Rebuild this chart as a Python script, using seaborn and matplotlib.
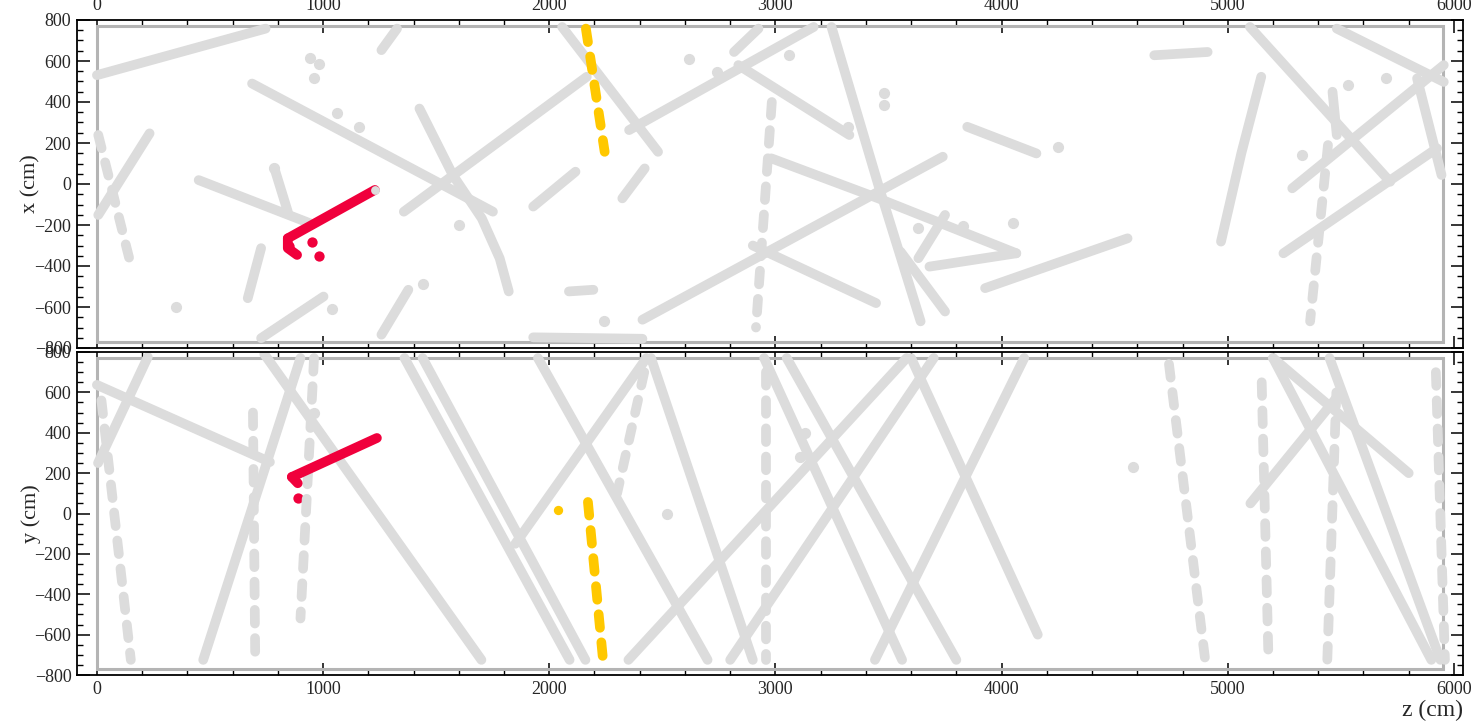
import numpy as np
import pandas as pd
import seaborn as sns
import matplotlib.pyplot as plt
from matplotlib.ticker import MultipleLocator
from matplotlib.patches import Rectangle

sns.set_theme(style="ticks")
plt.rcParams['font.family'] = ['Liberation Serif', 'DejaVu Serif']

# ---- data: each track is a list of (z, coord) vertices (cm) ----
# top view: x vs z
top_gray = [
    [(0, 531), (746, 758)],
    [(686, 490), (1751, -135)],
    [(1426, 368), (1574, 43), (1702, -168), (1781, -363), (1821, -524)],
    [(1357, -135), (2166, 523)],
    [(2057, 766), (2481, 157)],
    [(2353, 263), (3169, 766)],
    [(450, 19), (943, -192)],
    [(785, 76), (844, -135)],
    [(233, 247), (6, -151)],
    [(726, -313), (667, -557)],
    [(726, -752), (1002, -549)],
    [(1258, -735), (1377, -516)],
    [(1258, 653), (1327, 758)],
    [(1929, -110), (2116, 60)],
    [(2323, -70), (2422, 76)],
    [(2087, -524), (2195, -516)],
    [(1929, -748), (2412, -755)],
    [(2412, -662), (3740, 133)],
    [(2900, -300), (3445, -581)],
    [(2817, 644), (2925, 758)],
    [(2836, 580), (3327, 239)],
    [(3248, 766), (3455, -5), (3642, -670)],
    [(2982, 125), (3455, -70), (4065, -338)],
    [(3632, -362), (3750, -151)],
    [(3681, -403), (4065, -338)],
    [(3553, -330), (3750, -622)],
    [(3848, 279), (4154, 149)],
    [(3927, -508), (4557, -265)],
    [(4675, 628), (4911, 644)],
    [(4970, -281), (5060, 150), (5148, 523)],
    [(5098, 766), (5718, 11)],
    [(5482, 758), (5955, 498)],
    [(5285, -21), (5955, 580)],
    [(5246, -338), (5925, 174)],
    [(5837, 515), (5945, 44)],
    [(5463, 450), (5482, 239)],
]
top_gray_dashed = [
    [(6, 239), (154, -411)],
    [(2984, 400), (2914, -700)],
    [(5443, 190), (5364, -670)],
]
top_gray_dots_z = [940, 980, 960, 1060, 1160, 785, 1600, 1440, 350, 1040, 2240, 2620, 2740, 3060, 3480, 3480, 3320, 3630, 3830, 4050, 4250, 5330, 5700, 5530]
top_gray_dots_x = [615, 585, 515, 345, 280, 76, -200, -490, -600, -610, -670, 610, 545, 630, 445, 385, 280, -215, -203, -190, 180, 140, 515, 485]
top_red = [[(844, -265), (1229, -29)], [(844, -265), (844, -313), (885, -346)]]
top_red_dots_z = [953, 982, 850]
top_red_dots_x = [-281, -349, -300]
top_yellow = [[(2162, 758), (2245, 157)]]

# side view: y vs z
bot_gray = [
    [(0, 637), (765, 255)],
    [(225, 775), (5, 250)],
    [(470, -725), (900, 770)],
    [(740, 790), (1700, -725)],
    [(1360, 770), (2090, -725)],
    [(1440, 770), (2160, -725)],
    [(1950, 770), (2700, -725)],
    [(2450, 770), (2900, -725)],
    [(2430, 770), (1850, -150)],
    [(2950, 770), (3560, -725)],
    [(3050, 770), (3800, -725)],
    [(3580, 770), (2350, -725)],
    [(3700, 770), (2800, -725)],
    [(3600, 770), (4160, -600)],
    [(4100, 770), (3440, -725)],
    [(5200, 770), (5900, -725)],
    [(5450, 770), (5940, -725)],
    [(5800, 200), (5200, 770)],
    [(5100, 50), (5500, 600)],
]
bot_gray_dashed = [
    [(20, 560), (150, -725)],
    [(690, 500), (700, -720)],
    [(960, 770), (900, -520)],
    [(2960, 700), (2960, -725)],
    [(4740, 740), (4900, -725)],
    [(5150, 650), (5180, -725)],
    [(5480, 600), (5440, -725)],
    [(5920, 700), (5960, -725)],
    [(2420, 700), (2300, 100)],
]
bot_gray_dots_z = [4580, 3110, 3130, 960, 2520]
bot_gray_dots_y = [230, 280, 400, 500, 0]
bot_red = [[(862, 181), (1238, 374)], [(862, 181), (888, 150)]]
bot_red_dots_z = [889]
bot_red_dots_y = [77]
bot_yellow = [[(2171, 57), (2237, -716)]]
bot_yellow_dots_z = [2038]
bot_yellow_dots_y = [17]

GRAY = '#dcdcdc'
RED = '#f0003c'
YEL = '#ffc800'
LW = 7


def tracks_df(tracks, col):
    rows = []
    for i, tr in enumerate(tracks):
        for k, (z, v) in enumerate(tr):
            rows.append({'track': i, 'order': k, 'z': z, col: v})
    return pd.DataFrame(rows)


def draw_tracks(ax, tracks, col, color, dashed=False):
    if not tracks:
        return
    df = tracks_df(tracks, col)
    kw = dict(solid_capstyle='round', dash_capstyle='round')
    if dashed:
        kw['linestyle'] = (0, (1.4, 1.5))
    sns.lineplot(data=df, x='z', y=col, units='track', estimator=None, sort=False,
                 color=color, lw=LW, ax=ax, legend=False, **kw)


def style_axes(ax, ylabel, top_labels):
    ax.set_xlim(-88, 6040)
    ax.set_ylim(-800, 800)
    ax.add_patch(Rectangle((0, -772), 5950, 1544, fill=False, ec='#b4b4b4', lw=2.2, zorder=1))
    ax.xaxis.set_major_locator(MultipleLocator(1000))
    ax.xaxis.set_minor_locator(MultipleLocator(200))
    ax.yaxis.set_major_locator(MultipleLocator(200))
    ax.yaxis.set_minor_locator(MultipleLocator(50))
    ax.tick_params(which='both', direction='in', top=True, right=True, color='black',
                   labelsize=13, pad=4)
    ax.tick_params(which='major', length=9, width=1.1)
    ax.tick_params(which='minor', length=4.5, width=1.0)
    ax.tick_params(axis='x', labeltop=top_labels, labelbottom=not top_labels)
    for s in ax.spines.values():
        s.set_linewidth(1.3)
        s.set_color('black')
    ax.set_xlabel('')
    ax.set_ylabel(ylabel, fontsize=16)
    ax.yaxis.set_label_coords(-0.026, 0.5)


fig = plt.figure(figsize=(14.74, 7.22), dpi=100)
ax1 = fig.add_axes([77 / 1474, 1 - 348 / 722, 1386 / 1474, 328 / 722])
ax2 = fig.add_axes([77 / 1474, 1 - 675 / 722, 1386 / 1474, 323 / 722])

# top panel
draw_tracks(ax1, top_gray, 'x', GRAY)
draw_tracks(ax1, top_gray_dashed, 'x', GRAY, dashed=True)
sns.scatterplot(x=top_gray_dots_z, y=top_gray_dots_x, color=GRAY, s=65, lw=0, ax=ax1)
draw_tracks(ax1, top_red, 'x', RED)
sns.scatterplot(x=top_red_dots_z, y=top_red_dots_x, color=RED, s=55, lw=0, ax=ax1)
sns.scatterplot(x=[1229], y=[-29], color=GRAY, s=40, lw=0, ax=ax1, zorder=5)
draw_tracks(ax1, top_yellow, 'x', YEL, dashed=True)
style_axes(ax1, 'x (cm)', True)

# bottom panel
draw_tracks(ax2, bot_gray, 'y', GRAY)
draw_tracks(ax2, bot_gray_dashed, 'y', GRAY, dashed=True)
sns.scatterplot(x=bot_gray_dots_z, y=bot_gray_dots_y, color=GRAY, s=65, lw=0, ax=ax2)
draw_tracks(ax2, bot_red, 'y', RED)
sns.scatterplot(x=bot_red_dots_z, y=bot_red_dots_y, color=RED, s=55, lw=0, ax=ax2)
draw_tracks(ax2, bot_yellow, 'y', YEL, dashed=True)
sns.scatterplot(x=bot_yellow_dots_z, y=bot_yellow_dots_y, color=YEL, s=45, lw=0, ax=ax2)
style_axes(ax2, 'y (cm)', False)
ax2.set_xlabel('z (cm)', fontsize=17, ha='right', va='top')
ax2.xaxis.set_label_coords(1.0, -0.078)

fig.savefig('out.png', dpi=100)
